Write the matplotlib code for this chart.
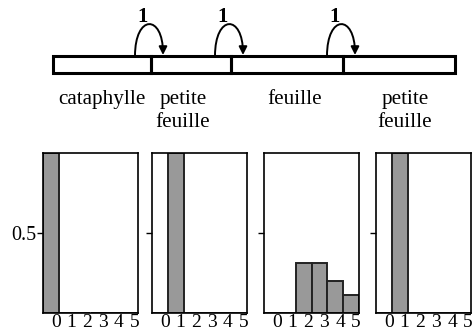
import matplotlib
matplotlib.use("Agg")
import matplotlib.pyplot as plt
from matplotlib.patches import Rectangle, FancyArrowPatch
from matplotlib.path import Path

plt.rcParams['font.family'] = ['Liberation Serif', 'DejaVu Serif']

# diagram of the shoot (pixel coords)
seg_edges = [53, 151, 231, 343, 455]
seg_labels = ["cataphylle", "petite\nfeuille", "feuille", "petite\nfeuille"]
label_x = [102, 183, 295, 405]
arc_starts = [135, 215, 327]
arc_ends = [163, 243, 355]
arc_text = ["1", "1", "1"]

# histograms
bins = [0, 1, 2, 3, 4, 5]
freq_cataphylle = [1, 0, 0, 0, 0, 0]
freq_petite1 = [0, 1, 0, 0, 0, 0]
freq_feuille = [0, 0, 0.31, 0.31, 0.20, 0.11]
freq_petite2 = [0, 1, 0, 0, 0, 0]
all_freqs = [freq_cataphylle, freq_petite1, freq_feuille, freq_petite2]

W, H = 472, 335
fig = plt.figure(figsize=(W / 100, H / 100), dpi=100)

# overlay for the top diagram
ax0 = fig.add_axes([0, 0, 1, 1])
ax0.set_xlim(0, W)
ax0.set_ylim(H, 0)
ax0.axis('off')

y_top, y_bot = 56, 73
for i in range(len(seg_edges) - 1):
    ax0.add_patch(Rectangle((seg_edges[i], y_top), seg_edges[i + 1] - seg_edges[i],
                            y_bot - y_top, fill=False, ec='black', lw=2.2))
for xl, lab in zip(label_x, seg_labels):
    for j, line in enumerate(lab.split('\n')):
        ax0.text(xl, 104 + 23 * j, line, ha='center', va='baseline', fontsize=15.2)

for xs, xe, t in zip(arc_starts, arc_ends, arc_text):
    p = Path([(xs, y_top), (xs, 14), (xe, 14), (xe, y_top - 1)],
             [Path.MOVETO, Path.CURVE4, Path.CURVE4, Path.CURVE4])
    arr = FancyArrowPatch(path=p, arrowstyle='-|>', mutation_scale=12, lw=1.4, color='black')
    ax0.add_patch(arr)
    ax0.text(xs + 8, 17, t, ha='center', va='center', fontsize=15, fontweight='bold')

# bottom panels
lefts = [43, 152, 264, 376]
pw = 95
top, bottom = 153, 313
for k, (lx, fr) in enumerate(zip(lefts, all_freqs)):
    ax = fig.add_axes([lx / W, (H - bottom) / H, pw / W, (bottom - top) / H])
    ax.bar(bins, fr, width=1, align='edge', color='#999999', edgecolor='#222222', lw=1.4)
    ax.set_xlim(0, 6)
    ax.set_ylim(0, 1)
    ax.set_yticks([0.5])
    if k == 0:
        ax.set_yticklabels(['0.5'], fontsize=14.5)
    else:
        ax.set_yticklabels([''])
    ax.tick_params(axis='y', length=4, width=1, pad=1)
    ax.set_xticks([b + 0.8 for b in bins])
    ax.set_xticklabels([str(b) for b in bins], fontsize=14)
    ax.tick_params(axis='x', length=0, pad=1)
    for s in ax.spines.values():
        s.set_linewidth(1.2)

fig.savefig("out.png", dpi=100)
